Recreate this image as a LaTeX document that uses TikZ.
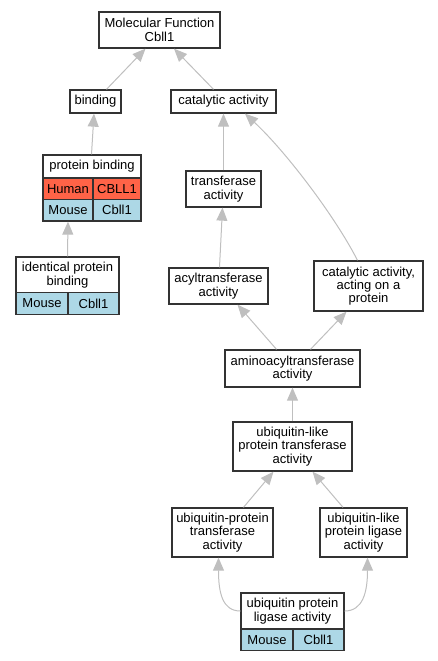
\documentclass[tikz,border=0pt]{standalone}
\usepackage{fontspec}
\setmainfont{Liberation Sans}
\usepackage{tikz}
\usetikzlibrary{arrows.meta}
\definecolor{tomato}{HTML}{FF6347}
\definecolor{lightblue}{HTML}{ADD8E6}
\newcommand\gofont{\fontsize{13}{13.3}\selectfont}
\begin{document}
\begin{tikzpicture}[x=1pt,y=-1pt,
    term/.style={draw=black!80,line width=1.3pt,fill=white,align=center,inner sep=0pt,font=\gofont},
    human/.style={term,fill=tomato,minimum height=21.5pt},
    mouse/.style={term,fill=lightblue,minimum height=21.5pt},
    isa/.style={draw=black!25,line width=1pt,-{Triangle[length=13pt,width=11pt]}}]
      \useasboundingbox (0,0) rectangle (437,661);
      % terms
      \node[term,minimum width=121pt,minimum height=36pt] (mf) at (159.5,30) {Molecular Function\\Cbll1};
      \node[term,minimum width=51pt,minimum height=23pt] (bind) at (95.5,101.5) {binding};
      \node[term,minimum width=105pt,minimum height=23pt] (cat) at (223.5,101.5) {catalytic activity};
      \node[term,minimum width=98pt,minimum height=23pt] (pb) at (92,166.5) {protein binding};
      \node[human,minimum width=50pt] (pbh1) at (68,188.75) {Human};
      \node[human,minimum width=48pt] (pbh2) at (117,188.75) {CBLL1};
      \node[mouse,minimum width=50pt] (pbm1) at (68,210.25) {Mouse};
      \node[mouse,minimum width=48pt] (pbm2) at (117,210.25) {Cbll1};
      \node[term,minimum width=75pt,minimum height=36pt] (trans) at (223.5,189) {transferase\\activity};
      \node[term,minimum width=103pt,minimum height=36pt] (idb) at (67.5,275) {identical protein\\binding};
      \node[mouse,minimum width=52pt] (idbm1) at (42,303.5) {Mouse};
      \node[mouse,minimum width=51pt] (idbm2) at (93.5,303.5) {Cbll1};
      \node[term,minimum width=99pt,minimum height=36pt] (acyl) at (218.5,286) {acyltransferase\\activity};
      \node[term,minimum width=109pt,minimum height=50pt] (capr) at (368.5,286) {catalytic activity,\\acting on a\\protein};
      \node[term,minimum width=135pt,minimum height=37pt] (amino) at (292.5,368.5) {aminoacyltransferase\\activity};
      \node[term,minimum width=119pt,minimum height=49pt] (ulpt) at (292.5,446.5) {ubiquitin-like\\protein transferase\\activity};
      \node[term,minimum width=101pt,minimum height=49pt] (upt) at (222.5,532.5) {ubiquitin-protein\\transferase\\activity};
      \node[term,minimum width=87pt,minimum height=49pt] (ullig) at (363.5,532.5) {ubiquitin-like\\protein ligase\\activity};
      \node[term,minimum width=103pt,minimum height=36pt] (uplig) at (292.5,611) {ubiquitin protein\\ligase activity};
      \node[mouse,minimum width=52pt] (upligm1) at (267,640) {Mouse};
      \node[mouse,minimum width=51pt] (upligm2) at (318.5,640) {Cbll1};
      % is_a edges
      \draw[isa] ([xshift=11pt]bind.north) -- ([xshift=-14pt]mf.south);
      \draw[isa] ([xshift=-10pt]cat.north) -- ([xshift=14.5pt]mf.south);
      \draw[isa] ([xshift=-0.5pt]pb.north) -- ([xshift=-1.5pt]bind.south);
      \draw[isa] (idb.north) -- (pbm1.south);
      \draw[isa] (trans.north) -- (cat.south);
      \draw[isa] ([xshift=-11pt]capr.north) .. controls +(-23,-45) and +(40,37) .. ([xshift=21.5pt]cat.south);
      \draw[isa] ([xshift=1pt]acyl.north) -- ([xshift=-1pt]trans.south);
      \draw[isa] ([xshift=-16pt]amino.north) -- ([xshift=19pt]acyl.south);
      \draw[isa] ([xshift=18pt]amino.north) -- ([xshift=-22pt]capr.south);
      \draw[isa] (ulpt.north) -- (amino.south);
      \draw[isa] ([xshift=21pt]upt.north) -- ([xshift=-19pt]ulpt.south);
      \draw[isa] ([xshift=-20.5pt]ullig.north) -- ([xshift=20pt]ulpt.south);
      \draw[isa] (uplig.west) .. controls +(-18,0) and +(0,35) .. ([xshift=-4pt]upt.south);
      \draw[isa] (uplig.east) .. controls +(18,0) and +(0,35) .. ([xshift=4pt]ullig.south);
\end{tikzpicture}
\end{document}
